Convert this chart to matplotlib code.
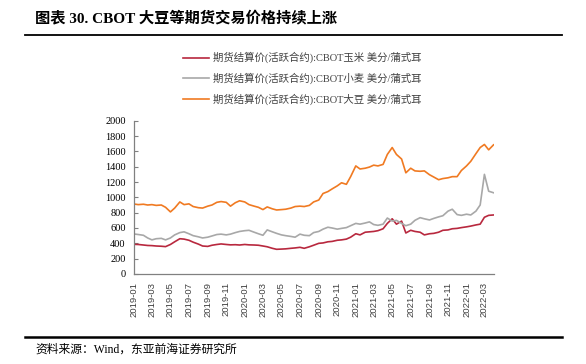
import matplotlib
matplotlib.use('Agg')
import matplotlib.pyplot as plt
import matplotlib.dates as mdates
from matplotlib.lines import Line2D
import pandas as pd

plt.rcParams['font.family'] = ['Liberation Serif', 'Noto Sans CJK SC']

# 半月取样 (每月1日、15日) + 最后一天
dates = list(pd.date_range('2019-01-01', '2022-03-31', freq='SMS')) + [pd.Timestamp('2022-03-31')]

corn = [
    387, 385, 378, 372, 370, 365, 362, 357, 385, 420, 460, 455,
    440, 415, 390, 365, 360, 375, 385, 392, 385, 380, 382, 378,
    385, 380, 378, 375, 365, 355, 335, 322, 325, 328, 335, 340,
    348, 335, 355, 375, 400, 405, 420, 425, 440, 445, 455, 480,
    525, 510, 545, 550, 555, 565, 590, 660, 720, 650, 690, 535,
    570, 555, 545, 510, 525, 530, 545, 570, 575, 590, 595, 605,
    615, 625, 640, 650, 740, 765, 770,
]
wheat = [
    522, 515, 505, 470, 445, 460, 465, 445, 470, 510, 540, 550,
    525, 500, 485, 470, 480, 496, 515, 520, 510, 520, 540, 555,
    565, 570, 545, 525, 505, 575, 550, 530, 510, 500, 490, 480,
    520, 505, 500, 540, 555, 585, 610, 600, 585, 595, 605, 630,
    660, 650, 665, 680, 645, 635, 650, 730, 690, 700, 660, 630,
    650, 700, 735, 720, 705, 725, 745, 760, 820, 845, 775, 765,
    780, 770, 820, 900, 1300, 1080, 1060,
]
soy = [
    913, 905, 910, 900, 905, 895, 900, 870, 810, 860, 940, 905,
    915, 880, 865, 860, 885, 900, 935, 945, 935, 885, 930, 955,
    940, 905, 885, 870, 840, 875, 850, 835, 840, 845, 860, 880,
    885, 880, 895, 940, 965, 1050, 1075, 1110, 1150, 1190, 1170, 1270,
    1410, 1370, 1380, 1395, 1420, 1410, 1430, 1560, 1650, 1560, 1500, 1320,
    1380, 1345, 1340, 1345, 1295, 1265, 1230, 1245, 1255, 1270, 1270, 1350,
    1410, 1470, 1570, 1650, 1690, 1620, 1685,
]

labels = ['期货结算价(活跃合约):CBOT玉米 美分/蒲式耳',
          '期货结算价(活跃合约):CBOT小麦 美分/蒲式耳',
          '期货结算价(活跃合约):CBOT大豆 美分/蒲式耳']
colors = ['#B8283E', '#A8A8A8', '#F07A22']

fig = plt.figure(figsize=(5.86, 3.64), dpi=100)
ax = fig.add_axes([0.2287, 0.2473, 0.614, 0.4211])

for ys, c, lab in zip([corn, wheat, soy], colors, labels):
    ax.plot(dates, ys, color=c, lw=1.2, label=lab)

ax.set_ylim(0, 2000)
ax.set_yticks(range(0, 2001, 200))
ax.set_xlim(pd.Timestamp('2019-01-01'), pd.Timestamp('2022-04-01'))
ax.xaxis.set_major_locator(mdates.MonthLocator(bymonth=[1, 3, 5, 7, 9, 11]))
ax.xaxis.set_major_formatter(mdates.DateFormatter('%Y-%m'))
for lab in ax.get_xticklabels():
    lab.set_rotation(90)
    lab.set_fontfamily('Liberation Sans')
    lab.set_fontsize(6.8)
ax.tick_params(axis='x', length=0, pad=6, colors='#404040')
ax.tick_params(axis='y', direction='in', length=3, labelsize=7.5, pad=6, color='#808080')
for s in ['top', 'right']:
    ax.spines[s].set_visible(False)
for s in ['left', 'bottom']:
    ax.spines[s].set_color('#808080')
    ax.spines[s].set_linewidth(0.9)

ax.legend(loc='upper left', bbox_to_anchor=(183 / 586, 1 - 52 / 364),
          bbox_transform=fig.transFigure, frameon=False, fontsize=7.5,
          handlelength=2.5, labelspacing=0.9, borderpad=0, borderaxespad=0,
          handletextpad=0.4, labelcolor='#404040')

fig.text(35 / 586, 1 - 18 / 364, '图表 30. CBOT 大豆等期货交易价格持续上涨', fontsize=11,
         fontweight='bold', va='center', ha='left')
fig.add_artist(Line2D([25 / 586, 562 / 586], [1 - 35 / 364] * 2, color='black', lw=1.3,
                      transform=fig.transFigure))
fig.add_artist(Line2D([25 / 586, 562 / 586], [1 - 337 / 364] * 2, color='black', lw=1.8,
                      transform=fig.transFigure))
fig.text(35 / 586, 1 - 350 / 364, '资料来源：Wind，东亚前海证券研究所', fontsize=8.5,
         va='center', ha='left')

fig.savefig('out.png', dpi=100)
